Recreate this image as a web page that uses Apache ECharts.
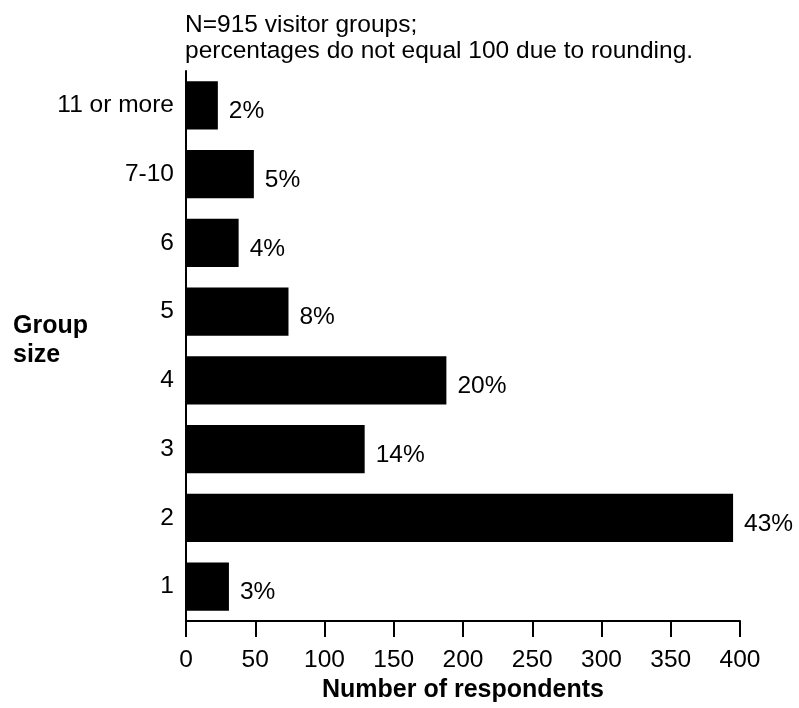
<!DOCTYPE html>
<html>
<head>
<meta charset="utf-8">
<script src="https://cdn.jsdelivr.net/npm/echarts@6/dist/echarts.min.js"></script>
<style>html,body{margin:0;padding:0;background:#fff}#c{width:799px;height:708px}</style>
</head>
<body>
<div id="c"></div>
<script>
var categories = ['1', '2', '3', '4', '5', '6', '7-10', '11 or more'];
var respondents = [31, 395, 129, 188, 74, 38, 49, 23];
var percentLabels = ['3%', '43%', '14%', '20%', '8%', '4%', '5%', '2%'];
var xTicks = [0, 50, 100, 150, 200, 250, 300, 350, 400];

var FONT = '"Liberation Sans", Arial, sans-serif';
var FS = 24.5;
var chart = echarts.init(document.getElementById('c'), null, {renderer: 'canvas'});
chart.setOption({
  backgroundColor: '#fff',
  animation: false,
  textStyle: {fontFamily: FONT, color: '#000'},
  grid: {left: 186, right: 59, top: 71, bottom: 84, containLabel: false},
  title: [{
    text: 'N=915 visitor groups;\npercentages do not equal 100 due to rounding.',
    left: 180, top: 7,
    textStyle: {fontFamily: FONT, fontSize: FS, fontWeight: 'normal', color: '#000', lineHeight: 26}
  }, {
    text: 'Group\nsize',
    left: 8, top: 306,
    textStyle: {fontFamily: FONT, fontSize: 25, fontWeight: 'bold', color: '#000', lineHeight: 29.5}
  }],
  xAxis: {
    type: 'value', min: xTicks[0], max: xTicks[xTicks.length - 1], interval: 50,
    name: 'Number of respondents', nameLocation: 'middle', nameGap: 57,
    nameTextStyle: {fontFamily: FONT, fontSize: 25, fontWeight: 'bold', color: '#000'},
    axisLine: {show: true, lineStyle: {color: '#000', width: 2}},
    axisTick: {show: true, length: 16, inside: false, lineStyle: {color: '#000', width: 2}},
    axisLabel: {fontFamily: FONT, fontSize: FS, color: '#000', margin: 27},
    splitLine: {show: false}
  },
  yAxis: {
    type: 'category', data: categories,
    axisLine: {show: true, lineStyle: {color: '#000', width: 2}},
    axisTick: {show: false},
    axisLabel: {fontFamily: FONT, fontSize: FS, color: '#000', margin: 12, padding: [8, 0, 0, 0]},
    splitLine: {show: false}
  },
  series: [{
    type: 'bar', data: respondents, barCategoryGap: '30%',
    itemStyle: {color: '#000'},
    label: {
      show: true, position: 'right', distance: 11, offset: [0, 6],
      fontFamily: FONT, fontSize: FS, color: '#000',
      formatter: function (p) { return percentLabels[p.dataIndex]; }
    }
  }]
});
</script>
</body>
</html>
